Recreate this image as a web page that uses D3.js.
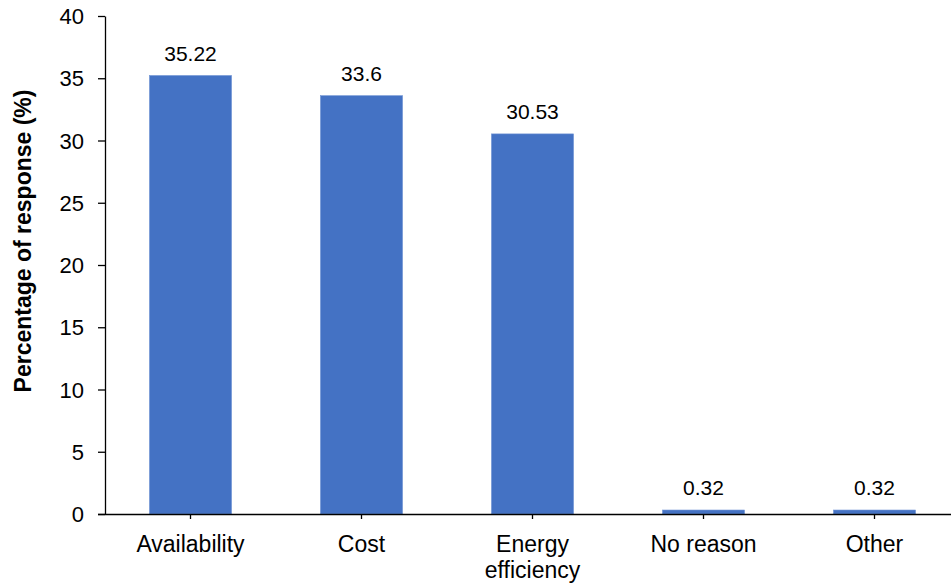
<!DOCTYPE html>
<html><head><meta charset="utf-8">
<script src="https://cdn.jsdelivr.net/npm/d3@7"></script>
<style>body{margin:0;background:#fff}text{font-family:"Liberation Sans",Arial,sans-serif}</style>
</head><body><svg id="c" width="951" height="586"></svg>
<script>
const categories = ["Availability", "Cost", "Energy efficiency", "No reason", "Other"];
const values = [35.22, 33.6, 30.53, 0.32, 0.32];
const valueLabels = ["35.22", "33.6", "30.53", "0.32", "0.32"];
const yTicks = [0, 5, 10, 15, 20, 25, 30, 35, 40];
const yTitle = "Percentage of response (%)";

const svg = d3.select("#c");
const x = d3.scaleBand().domain(categories).range([105, 960]).paddingInner(0.52).paddingOuter(0.26);
const y = d3.scaleLinear().domain([0, 40]).range([514, 16]);

svg.selectAll("rect.bar").data(values).join("rect").attr("class","bar")
  .attr("x", (d,i)=>x(categories[i])).attr("width", x.bandwidth())
  .attr("y", d=>y(d)).attr("height", d=>y(0)-y(d))
  .attr("fill", "#4472C4").attr("stroke","#6f93d4").attr("stroke-width",0.6);

svg.selectAll("text.val").data(values).join("text").attr("class","val")
  .attr("x",(d,i)=>x(categories[i])+x.bandwidth()/2).attr("y", d=>y(d)-15)
  .attr("text-anchor","middle").attr("font-size",21).attr("fill","#000")
  .text((d,i)=>valueLabels[i]);

const yAxis = svg.append("g").attr("transform","translate(105,0)")
  .call(d3.axisLeft(y).tickValues(yTicks).tickSize(7).tickSizeOuter(0).tickPadding(14));
yAxis.selectAll("text").attr("font-size",22).attr("fill","#000").attr("dy","0.35em");
yAxis.selectAll("line,path").attr("stroke","#000").attr("stroke-width",1.3);

const xAxis = svg.append("g").attr("transform","translate(0,514)")
  .call(d3.axisBottom(x).tickSize(5).tickSizeOuter(0).tickFormat(""));
xAxis.selectAll("line,path").attr("stroke","#000").attr("stroke-width",1.3);
xAxis.select("path.domain").attr("d","M98,0.5H960");

categories.forEach(c=>{
  const words = c === "Energy efficiency" ? ["Energy","efficiency"] : [c];
  const t = svg.append("text").attr("x", x(c)+x.bandwidth()/2).attr("y",552)
    .attr("text-anchor","middle").attr("font-size",23).attr("fill","#000");
  words.forEach((w,k)=>t.append("tspan").attr("x", x(c)+x.bandwidth()/2).attr("dy", k?26:0).text(w));
});

svg.append("text").attr("transform","translate(31,241) rotate(-90)")
  .attr("text-anchor","middle").attr("font-size",23).attr("font-weight","bold").attr("fill","#000")
  .text(yTitle);
</script></body></html>
